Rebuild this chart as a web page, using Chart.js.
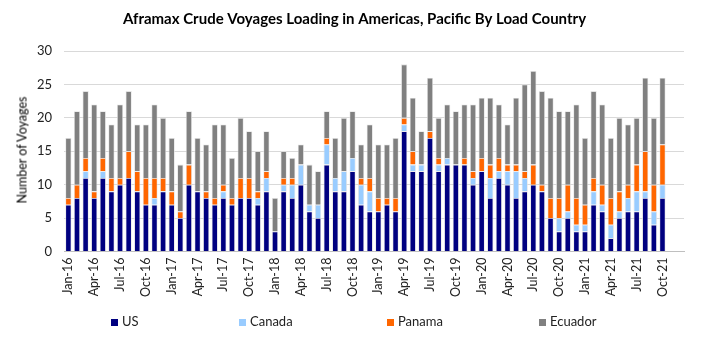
<!DOCTYPE html>
<html>
<head>
<meta charset="utf-8">
<script src="https://cdn.jsdelivr.net/npm/chart.js@4.4.0/dist/chart.umd.min.js"></script>
<style>
  body{margin:0;background:#fff;}
  #wrap{position:relative;width:702px;height:351px;}
  .leg{position:absolute;top:313px;font:13px Lato,sans-serif;color:#222;white-space:nowrap;}
  .leg i{display:inline-block;width:7px;height:7px;margin-right:4px;vertical-align:0px;}
  #ytitle{position:absolute;left:22px;top:150px;font:12.5px Lato,sans-serif;color:#000;white-space:nowrap;
    transform:translate(-50%,-50%) rotate(-90deg);}
</style>
</head>
<body>
<div id="wrap">
  <canvas id="mychart" width="702" height="351"></canvas>
  <div id="ytitle">Number of Voyages</div>
</div>
<script>
const months=['Jan','Feb','Mar','Apr','May','Jun','Jul','Aug','Sep','Oct','Nov','Dec'];
const labels=[];
for(let y=16;y<=21;y++){ for(const m of months){ labels.push(m+'-'+y); } }

const us=[7,8,11,8,11,9,10,11,9,7,7,9, 7,5,10,9,8,7,8,7,8,8,7,9, 3,9,8,10,6,5,13,9,9,12,7,6,
          6,7,6,18,12,12,17,12,13,13,13,10, 12,8,11,10,8,9,10,9,5,3,5,3, 3,7,6,2,5,6,6,8,4,8];
const canada=[0,0,1,0,1,0,0,0,0,0,1,0, 0,0,0,0,0,0,1,0,0,0,1,2, 0,1,2,3,1,2,3,2,3,2,3,3,
          0,0,0,1,1,1,0,1,1,0,0,1, 0,3,1,2,4,2,0,0,0,2,1,1, 1,2,1,2,1,2,3,1,2,2];
const panama=[1,2,2,1,2,2,1,4,3,4,3,2, 2,1,3,0,1,1,1,1,3,3,1,1, 0,1,1,0,0,0,1,0,0,0,1,2,
          2,1,2,1,2,0,1,1,0,0,1,1, 2,2,2,1,1,1,3,1,3,3,4,4, 3,2,3,4,3,2,4,6,4,6];
const ecuador=[9,11,10,13,7,8,11,9,7,8,11,9, 8,7,8,8,7,11,9,6,9,7,6,6, 5,4,3,3,6,5,4,6,8,7,5,8,
          8,8,9,8,8,5,8,6,8,8,8,10, 9,10,8,6,10,13,14,14,15,13,11,14, 10,13,12,9,11,9,7,11,10,10];

const ctx=document.getElementById('mychart').getContext('2d');
function ds(label,data,color){
  return {label:label,data:data,backgroundColor:color,borderColor:'#e3e3e3',borderWidth:0.8,
          categoryPercentage:1,barPercentage:0.72};
}
const myChart=new Chart(ctx,{
  type:'bar',
  data:{
    labels:labels,
    datasets:[
      ds('US',us,'#000080'),
      ds('Canada',canada,'#99ccff'),
      ds('Panama',panama,'#ff6600'),
      ds('Ecuador',ecuador,'#808080')
    ]
  },
  options:{
    responsive:false,
    animation:false,
    layout:{padding:{left:25,right:18,top:10,bottom:48}},
    plugins:{
      legend:{display:false},
      tooltip:{enabled:false},
      title:{display:true,text:'Aframax Crude Voyages Loading in Americas, Pacific By Load Country',
        color:'#000',font:{family:'Lato',size:15,weight:'bold'},padding:{top:0,bottom:23}}
    },
    scales:{
      x:{stacked:true,
        grid:{display:false,drawTicks:false},
        border:{color:'#bfbfbf'},
        ticks:{autoSkip:false,maxRotation:90,minRotation:90,padding:6,color:'#222',
          font:{family:'Lato',size:12.5},
          callback:function(v,i){return i%3===0?labels[i]:'';}}
      },
      y:{stacked:true,min:0,max:30,
        grid:{color:'#d9d9d9',drawTicks:false},
        border:{display:false},
        ticks:{stepSize:5,padding:12,color:'#222',font:{family:'Lato',size:13}}
      }
    }
  }
});
</script>
<div class="leg" style="left:111px"><i style="background:#000080"></i>US</div>
<div class="leg" style="left:239px"><i style="background:#99ccff"></i>Canada</div>
<div class="leg" style="left:387px"><i style="background:#ff6600"></i>Panama</div>
<div class="leg" style="left:539px"><i style="background:#808080"></i>Ecuador</div>
</body>
</html>
